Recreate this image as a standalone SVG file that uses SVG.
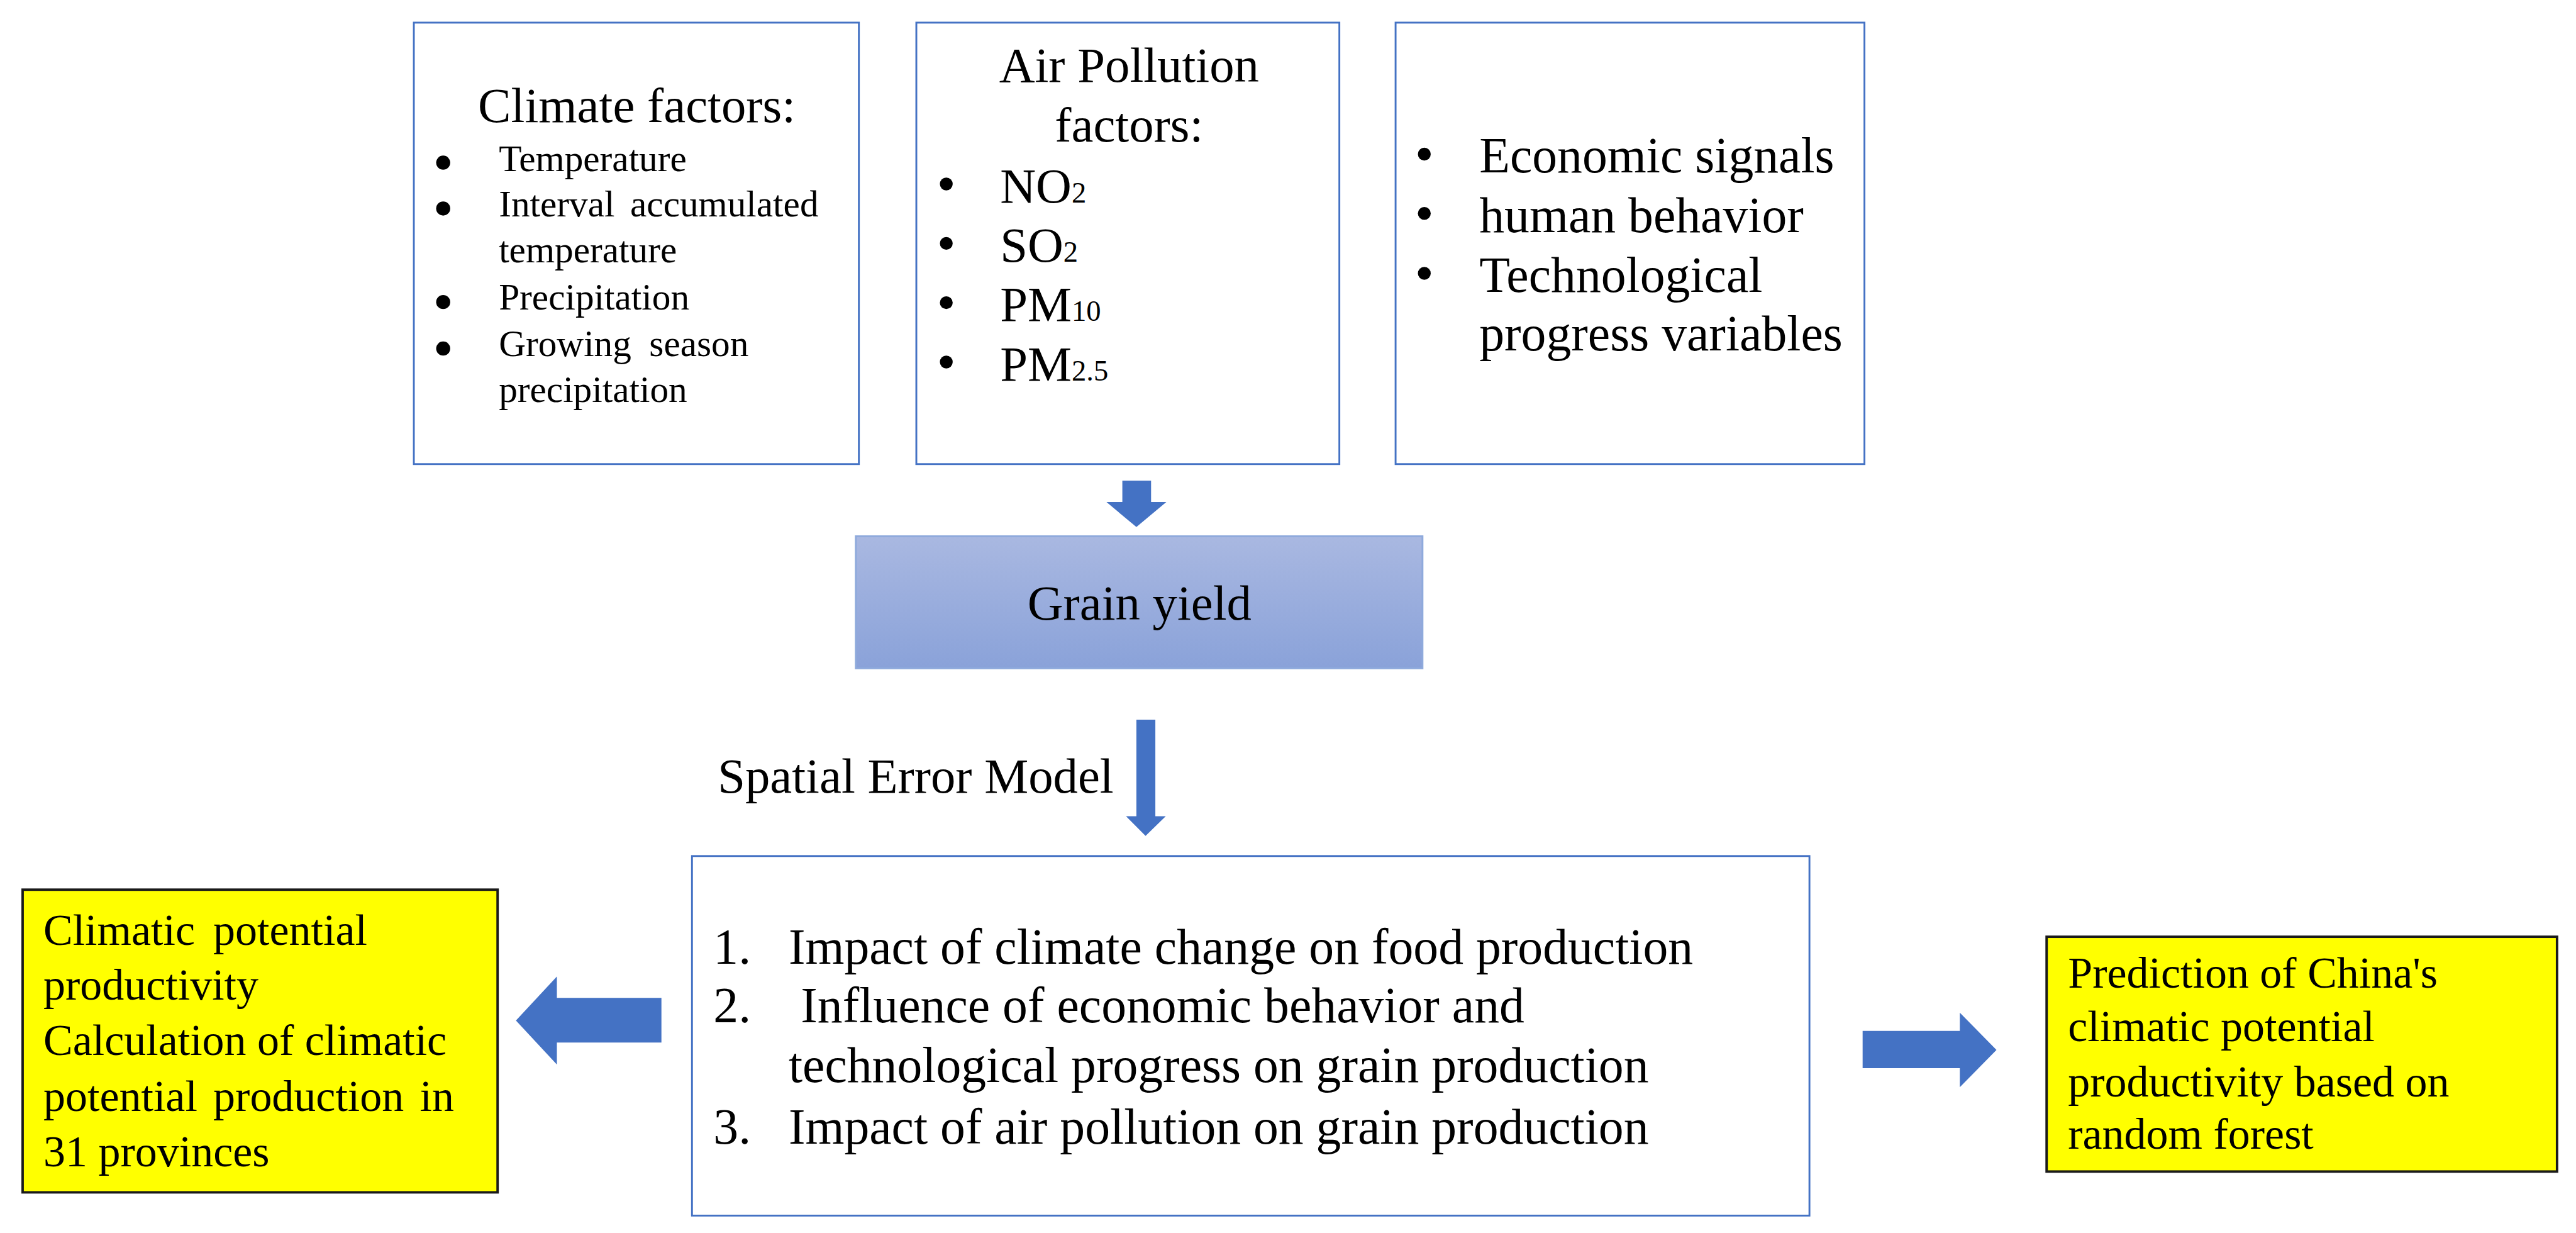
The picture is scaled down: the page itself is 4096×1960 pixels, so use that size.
<svg xmlns="http://www.w3.org/2000/svg" width="4096" height="1960" viewBox="0 0 4096 1960">
<defs>
<linearGradient id="gy" x1="0" y1="0" x2="0" y2="1">
<stop offset="0" stop-color="#A9B8E1"/>
<stop offset="1" stop-color="#8AA2D9"/>
</linearGradient>
<style>
.box{fill:#FFFFFF;stroke:#4472C4;stroke-width:3}
.ybox{fill:#FFFF00;stroke:#1a1a1a;stroke-width:4}
.t{font-family:"Liberation Serif","Times New Roman",serif;fill:#000}
.arr{fill:#4472C4}
.dot{fill:#000}
</style>
</defs>
<rect width="4096" height="1960" fill="#FFFFFF"/>
<g transform="scale(0.972)">
<g id="climate">
<rect class="box" x="677" y="37" width="728" height="722"/>
<text class="t" x="782" y="200" font-size="81">Climate factors:</text>
<circle class="dot" cx="725" cy="266" r="11.5"/>
<circle class="dot" cx="725" cy="341" r="11.5"/>
<circle class="dot" cx="725" cy="494" r="11.5"/>
<circle class="dot" cx="725" cy="570" r="11.5"/>
<g class="t" font-size="61">
<text x="816" y="280">Temperature</text>
<text x="816" y="354" word-spacing="10">Interval accumulated</text>
<text x="816" y="429">temperature</text>
<text x="816" y="506">Precipitation</text>
<text x="816" y="582" word-spacing="14">Growing season</text>
<text x="816" y="657">precipitation</text>
</g>
</g>
<g id="air">
<rect class="box" x="1499" y="37" width="692" height="722"/>
<g class="t" font-size="81" text-anchor="middle">
<text x="1847" y="134">Air Pollution</text>
<text x="1847" y="231">factors:</text>
</g>
<circle class="dot" cx="1548" cy="301" r="10.5"/>
<circle class="dot" cx="1548" cy="398" r="10.5"/>
<circle class="dot" cx="1548" cy="495" r="10.5"/>
<circle class="dot" cx="1548" cy="592" r="10.5"/>
<g class="t" font-size="81">
<text x="1636" y="331">NO<tspan font-size="48">2</tspan></text>
<text x="1636" y="428">SO<tspan font-size="48">2</tspan></text>
<text x="1636" y="525">PM<tspan font-size="48">10</tspan></text>
<text x="1636" y="622">PM<tspan font-size="48">2.5</tspan></text>
</g>
</g>
<g id="econ">
<rect class="box" x="2283" y="37" width="767" height="722"/>
<circle class="dot" cx="2330" cy="252" r="10.5"/>
<circle class="dot" cx="2330" cy="349" r="10.5"/>
<circle class="dot" cx="2330" cy="447" r="10.5"/>
<g class="t" font-size="82">
<text x="2420" y="282">Economic signals</text>
<text x="2420" y="380">human behavior</text>
<text x="2420" y="477">Technological</text>
<text x="2420" y="573">progress variables</text>
</g>
</g>
<g id="grain">
<rect x="1400" y="877" width="927" height="216" fill="url(#gy)" stroke="#8FAADC" stroke-width="3"/>
<text class="t" x="1864" y="1013" font-size="81" text-anchor="middle">Grain yield</text>
</g>
<g id="model">
<rect class="box" x="1132" y="1400" width="1828" height="588"/>
<g class="t" font-size="82">
<text x="1167" y="1576">1.</text>
<text x="1290" y="1576">Impact of climate change on food production</text>
<text x="1167" y="1672">2.</text>
<text x="1310" y="1672">Influence of economic behavior and</text>
<text x="1290" y="1770">technological progress on grain production</text>
<text x="1167" y="1870">3.</text>
<text x="1290" y="1870">Impact of air pollution on grain production</text>
</g>
</g>
<g id="climatic-potential">
<rect class="ybox" x="37" y="1455" width="777" height="495"/>
<g class="t" font-size="72">
<text x="71" y="1545" word-spacing="12">Climatic potential</text>
<text x="71" y="1635">productivity</text>
<text x="71" y="1725">Calculation of climatic</text>
<text x="71" y="1817" word-spacing="8">potential production in</text>
<text x="71" y="1907">31 provinces</text>
</g>
</g>
<g id="prediction">
<rect class="ybox" x="3348" y="1532" width="835" height="384"/>
<g class="t" font-size="72">
<text x="3383" y="1615">Prediction of China's</text>
<text x="3383" y="1703">climatic potential</text>
<text x="3383" y="1793">productivity based on</text>
<text x="3383" y="1879">random forest</text>
</g>
</g>
<g id="connectors">
<polygon class="arr" points="1836,786 1883,786 1883,821 1908,821 1859,862 1810,821 1836,821"/>
<polygon class="arr" points="1859,1177 1890,1177 1890,1335 1907,1335 1874,1367 1842,1335 1859,1335"/>
<text class="t" x="1174" y="1296" font-size="81">Spatial Error Model</text>
<polygon class="arr" points="1082,1632 911,1632 911,1597 844,1669 911,1741 911,1705 1082,1705"/>
<polygon class="arr" points="3047,1686 3206,1686 3206,1656 3266,1717 3206,1778 3206,1747 3047,1747"/>
</g>
</g>
</svg>
